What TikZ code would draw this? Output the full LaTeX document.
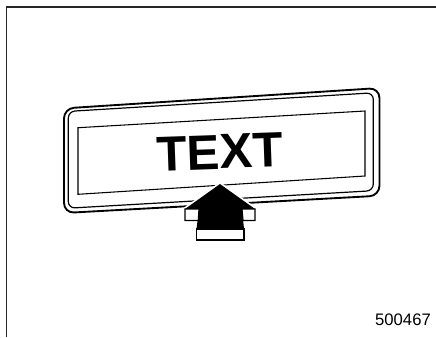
\documentclass[tikz,border=0pt]{standalone}
\usepackage{fontspec}
\setmainfont{Liberation Sans}
\begin{document}
\begin{tikzpicture}[x=0.75pt,y=0.75pt,yscale=-1,xscale=1]
\useasboundingbox (0,0) rectangle (436,337);

%Straight Lines: open frame (top and left only)
\draw [color=black!85, line width=1pt]  (436,7) -- (6.5,7) -- (6.5,337) ;
%Shape: Plate outer border
\draw [line width=1.4pt, rounded corners=7.5pt]  (64,108.4) -- (379.5,88) -- (379.5,195.7) -- (64,213) -- cycle ;
%Shape: Plate middle border
\draw [line width=0.9pt, rounded corners=5pt]  (68.3,111.4) -- (373.3,92.8) -- (373.3,190.7) -- (68.3,208.2) -- cycle ;
%Shape: Plate inner window
\draw [line width=0.8pt]  (78,127.7) -- (365,111) -- (365,176) -- (78,194.3) -- cycle ;

%Shape: Arrow halo
\draw [white, fill=white, line width=2.5pt]  (220,184) -- (255,209) -- (255,220.5) -- (242,220.5) -- (244,229) -- (244,240) -- (196.5,240) -- (196.5,229) -- (199,220.5) -- (185,220.5) -- (185,209) -- cycle ;
%Shape: Arrow front face
\fill [black]  (220,184) -- (255,209) -- (242,209) -- (244,229) -- (196.5,229) -- (199,209) -- (185,209) -- cycle ;
%Shape: Arrow left wing side
\draw [fill=white, line width=0.9pt]  (185,209) -- (199,209) -- (198.3,220.5) -- (185,220.5) -- cycle ;
%Shape: Arrow right wing side
\draw [fill=white, line width=0.9pt]  (242,209) -- (255,209) -- (255,220.5) -- (243,220.5) -- cycle ;
%Shape: Arrow shaft end
\draw [fill=white, line width=0.9pt]  (196.5,229) -- (244,229) -- (244,240) -- (196.5,240) -- cycle ;

% Text Node
\draw (220,152) node [font=\fontsize{37}{40}\selectfont\bfseries, rotate=2, inner sep=0pt] (plate) {TEXT};
% Text Node
\draw (403,319.7) node [font=\fontsize{12.5}{14}\selectfont, inner sep=0pt] (partno) {500467};

\end{tikzpicture}
\end{document}
